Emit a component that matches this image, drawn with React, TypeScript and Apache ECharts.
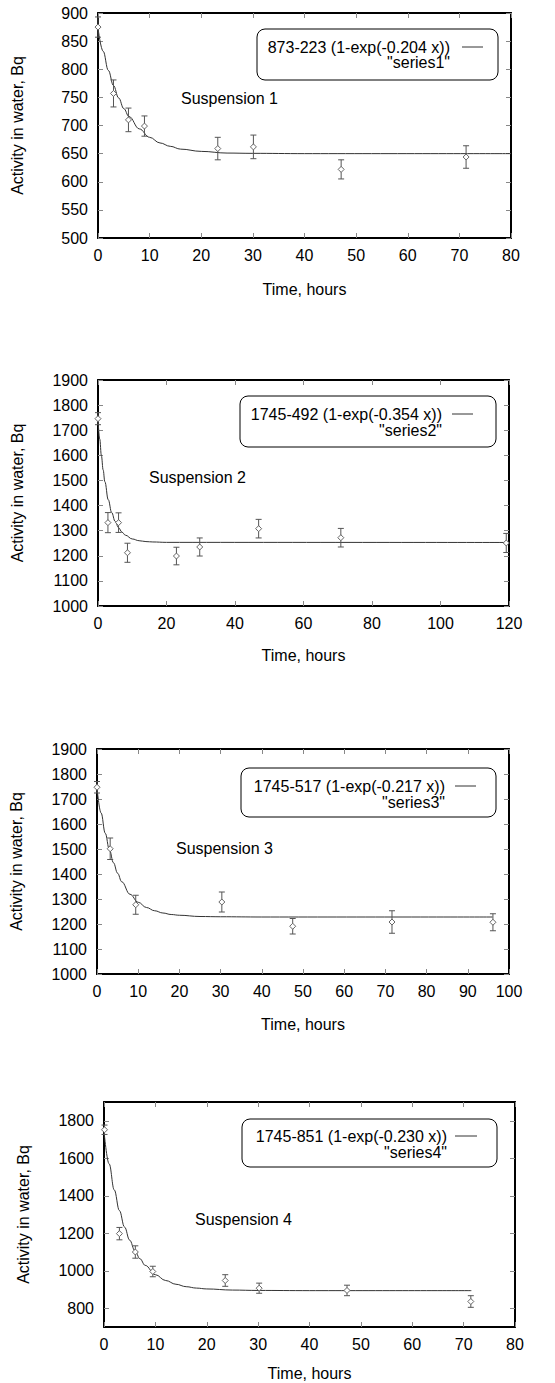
import React, { useEffect, useRef } from "react";
import * as echarts from "echarts";

// ---------- data ----------
const s1Time = [0, 3.0, 5.9, 9.0, 23.2, 30.1, 47.1, 71.3];
const s1Activity = [875, 757, 710, 699, 659, 662, 622, 644];
const s1Error = [18, 24, 21, 18, 20, 21, 17, 20];
const fit1Time = [0, 1, 2, 3, 4, 5, 6, 8, 10, 12, 14, 16, 20, 25, 30, 40, 80];
const fit1Activity = [873, 832, 798, 771, 749, 730, 716, 694, 679, 669, 663, 658, 654, 651, 650.5, 650, 650];

const s2Time = [0, 2.9, 6.0, 8.6, 22.9, 29.7, 46.9, 70.9, 119.2];
const s2Activity = [1746, 1332, 1332, 1212, 1199, 1235, 1308, 1272, 1251];
const s2Error = [24, 40, 39, 38, 35, 36, 37, 37, 38];
const fit2Time = [0, 0.5, 1, 1.5, 2, 3, 4, 5, 6, 7, 8, 10, 12, 14, 16, 20, 120];
const fit2Activity = [1745, 1665, 1598, 1542, 1495, 1423, 1372, 1337, 1312, 1294, 1282, 1267, 1260, 1256.5, 1255, 1253.4, 1253];

const s3Time = [0, 3.2, 9.4, 30.3, 47.5, 71.6, 96.1];
const s3Activity = [1747, 1501, 1277, 1288, 1191, 1208, 1207];
const s3Error = [23, 43, 38, 40, 31, 45, 34];
const fit3Time = [0, 1, 2, 3, 4, 5, 6, 8, 10, 12, 14, 16, 18, 20, 25, 30, 40, 96];
const fit3Activity = [1745, 1644, 1563, 1498, 1445, 1403, 1369, 1319, 1287, 1266, 1253, 1244, 1238, 1235, 1230, 1229, 1228, 1228];

const s4Time = [0.1, 3.0, 6.1, 9.5, 23.6, 30.2, 47.3, 71.4];
const s4Activity = [1752, 1198, 1100, 996, 948, 907, 895, 836];
const s4Error = [25, 33, 33, 28, 31, 27, 28, 31];
const fit4Time = [0, 1, 2, 3, 4, 5, 6, 7, 8, 10, 12, 14, 16, 18, 20, 25, 30, 40, 71.5];
const fit4Activity = [1745, 1570, 1431, 1321, 1233, 1163, 1108, 1064, 1029, 979, 948, 928, 915, 907.5, 903, 897, 895, 894, 894];

const fitLabels = [
  "873-223 (1-exp(-0.204 x))",
  "1745-492 (1-exp(-0.354 x))",
  "1745-517 (1-exp(-0.217 x))",
  "1745-851 (1-exp(-0.230 x))",
];
const seriesLabels = ['"series1"', '"series2"', '"series3"', '"series4"'];
const panelTitles = ["Suspension 1", "Suspension 2", "Suspension 3", "Suspension 4"];

const xMax = [80, 120, 100, 80];
const xStep = [10, 20, 10, 10];
const yMin = [500, 1000, 1000, 700];
const yMax = [900, 1900, 1900, 1900];
const yTicks = [
  [500, 550, 600, 650, 700, 750, 800, 850, 900],
  [1000, 1100, 1200, 1300, 1400, 1500, 1600, 1700, 1800, 1900],
  [1000, 1100, 1200, 1300, 1400, 1500, 1600, 1700, 1800, 1900],
  [800, 1000, 1200, 1400, 1600, 1800],
];

const xTitle = "Time, hours";
const yTitle = "Activity in water, Bq";

// ---------- layout (pixels) ----------
const W = 555;
const H = 1383;
const grids = [
  { left: 98, top: 13, width: 413, height: 225 },
  { left: 98, top: 380, width: 411, height: 226 },
  { left: 96, top: 749, width: 413, height: 225 },
  { left: 104, top: 1102, width: 411, height: 225 },
];
const xNameGap = [43, 41, 42, 38];
const legendBoxes = [
  { x: 257, y: 29, w: 241, h: 51, textRight: 450, sx1: 462, sx2: 483, y1: 47, y2: 62 },
  { x: 240, y: 396, w: 256, h: 51, textRight: 442, sx1: 452, sx2: 473, y1: 414, y2: 430 },
  { x: 241, y: 768, w: 255, h: 49, textRight: 445, sx1: 455, sx2: 476, y1: 786, y2: 802 },
  { x: 242, y: 1119, w: 255, h: 48, textRight: 447, sx1: 455, sx2: 477, y1: 1136, y2: 1152 },
];
const titlePos = [
  { x: 181, y: 98 },
  { x: 149, y: 477 },
  { x: 176, y: 848 },
  { x: 195, y: 1219 },
];

const FONT = "'Liberation Sans', Arial, Helvetica, sans-serif";
const FS = 16;
const BAR = "#555";
const MARK = "#666";

const pointsSets = [
  [s1Time, s1Activity, s1Error],
  [s2Time, s2Activity, s2Error],
  [s3Time, s3Activity, s3Error],
  [s4Time, s4Activity, s4Error],
];
const fitSets = [
  [fit1Time, fit1Activity],
  [fit2Time, fit2Activity],
  [fit3Time, fit3Activity],
  [fit4Time, fit4Activity],
];

const plain = (v: number) => String(v);

function errorBarRender(params: any, api: any) {
  const x = api.value(0);
  const y = api.value(1);
  const e = api.value(2);
  const c = api.coord([x, y]);
  const hi = api.coord([x, y + e]);
  const lo = api.coord([x, y - e]);
  const cap = 3;
  const d = 3;
  const st = { stroke: BAR, lineWidth: 1 };
  return {
    type: "group",
    children: [
      { type: "line", shape: { x1: c[0], y1: hi[1], x2: c[0], y2: lo[1] }, style: st },
      { type: "line", shape: { x1: c[0] - cap, y1: hi[1], x2: c[0] + cap, y2: hi[1] }, style: st },
      { type: "line", shape: { x1: c[0] - cap, y1: lo[1], x2: c[0] + cap, y2: lo[1] }, style: st },
      {
        type: "polygon",
        shape: { points: [[c[0], c[1] - d], [c[0] + d, c[1]], [c[0], c[1] + d], [c[0] - d, c[1]]] },
        style: { fill: "#fff", stroke: MARK, lineWidth: 1 },
      },
    ],
  };
}

function buildOption() {
  const grid: any[] = [];
  const xAxis: any[] = [];
  const yAxis: any[] = [];
  const series: any[] = [];
  const graphic: any[] = [];

  for (let i = 0; i < 4; i++) {
    const g = grids[i];
    grid.push({ left: g.left, top: g.top, width: g.width, height: g.height, containLabel: false });
    const axisLine = { show: true, onZero: false, lineStyle: { color: "#000", width: 2 } };
    const tick = { show: true, inside: true, length: 5, lineStyle: { color: "#888", width: 1 } };
    const custom = i === 3;
    xAxis.push({
      gridIndex: i,
      type: "value",
      position: "bottom",
      min: 0,
      max: xMax[i],
      interval: xStep[i],
      axisLine,
      axisTick: tick,
      splitLine: { show: false },
      axisLabel: { color: "#000", fontSize: FS, fontFamily: FONT, margin: 9, formatter: plain },
      name: xTitle,
      nameLocation: "middle",
      nameGap: xNameGap[i],
      nameTextStyle: { color: "#000", fontSize: FS, fontFamily: FONT },
    });
    xAxis.push({
      gridIndex: i,
      type: "value",
      position: "top",
      min: 0,
      max: xMax[i],
      interval: xStep[i],
      axisLine,
      axisTick: tick,
      splitLine: { show: false },
      axisLabel: { show: false },
    });
    const yBase: any = {
      gridIndex: i,
      type: "value",
      min: yMin[i],
      max: yMax[i],
      axisLine,
      splitLine: { show: false },
    };
    if (custom) {
      yBase.axisTick = { ...tick, customValues: yTicks[i] };
    } else {
      yBase.interval = yTicks[i][1] - yTicks[i][0];
      yBase.axisTick = tick;
    }
    const yLabel: any = { color: "#000", fontSize: FS, fontFamily: FONT, margin: 10, formatter: plain };
    if (custom) yLabel.customValues = yTicks[i];
    yAxis.push({
      ...yBase,
      position: "left",
      axisLabel: yLabel,
      name: yTitle,
      nameLocation: "middle",
      nameRotate: 90,
      nameGap: 73,
      nameTextStyle: { color: "#000", fontSize: FS, fontFamily: FONT },
    });
    yAxis.push({
      ...yBase,
      position: "right",
      axisLabel: { show: false },
    });

    const [ft, fa] = fitSets[i];
    series.push({
      type: "line",
      name: fitLabels[i],
      xAxisIndex: 2 * i,
      yAxisIndex: 2 * i,
      data: ft.map((t, k) => [t, fa[k]]),
      showSymbol: false,
      smooth: 0.4,
      smoothMonotone: "x",
      lineStyle: { color: "#333", width: 1 },
      silent: true,
      z: 2,
    });
    const [pt, pa, pe] = pointsSets[i];
    series.push({
      type: "custom",
      name: seriesLabels[i],
      xAxisIndex: 2 * i,
      yAxisIndex: 2 * i,
      data: pt.map((t, k) => [t, pa[k], pe[k]]),
      encode: { x: 0, y: 1 },
      renderItem: errorBarRender,
      clip: false,
      z: 3,
    });

    // legend box
    const L = legendBoxes[i];
    graphic.push({
      type: "rect",
      shape: { x: L.x, y: L.y, width: L.w, height: L.h, r: 8 },
      style: { fill: "#fff", stroke: "#000", lineWidth: 1 },
      z: 10,
    });
    graphic.push({
      type: "text",
      x: L.textRight,
      y: L.y1,
      style: { text: fitLabels[i], fill: "#000", font: `${FS}px ${FONT}`, textAlign: "right", textVerticalAlign: "middle" },
      z: 11,
    });
    graphic.push({
      type: "text",
      x: L.textRight,
      y: L.y2,
      style: { text: seriesLabels[i], fill: "#000", font: `${FS}px ${FONT}`, textAlign: "right", textVerticalAlign: "middle" },
      z: 11,
    });
    graphic.push({
      type: "line",
      shape: { x1: L.sx1, y1: L.y1, x2: L.sx2, y2: L.y1 },
      style: { stroke: "#333", lineWidth: 1 },
      z: 11,
    });
    const mid = (L.sx1 + L.sx2) / 2;
    graphic.push({
      type: "group",
      z: 11,
      children: [
        { type: "line", shape: { x1: L.sx1, y1: L.y2, x2: L.sx2, y2: L.y2 }, style: { stroke: BAR, lineWidth: 1 } },
        { type: "line", shape: { x1: L.sx1, y1: L.y2 - 3, x2: L.sx1, y2: L.y2 + 3 }, style: { stroke: BAR, lineWidth: 1 } },
        { type: "line", shape: { x1: L.sx2, y1: L.y2 - 3, x2: L.sx2, y2: L.y2 + 3 }, style: { stroke: BAR, lineWidth: 1 } },
        {
          type: "polygon",
          shape: { points: [[mid, L.y2 - 3], [mid + 3, L.y2], [mid, L.y2 + 3], [mid - 3, L.y2]] },
          style: { fill: "#fff", stroke: MARK, lineWidth: 1 },
        },
      ],
    });
    graphic.push({
      type: "text",
      x: titlePos[i].x,
      y: titlePos[i].y,
      style: { text: panelTitles[i], fill: "#000", font: `${FS}px ${FONT}`, textAlign: "left", textVerticalAlign: "middle" },
      z: 11,
    });
  }

  return {
    animation: false,
    backgroundColor: "#fff",
    textStyle: { fontFamily: FONT },
    grid,
    xAxis,
    yAxis,
    series,
    graphic,
  };
}

export default function App() {
  const ref = useRef<HTMLDivElement>(null);
  useEffect(() => {
    if (!ref.current) return;
    const chart = echarts.init(ref.current, undefined, { renderer: "svg" });
    chart.setOption(buildOption() as any);
    return () => chart.dispose();
  }, []);
  return (
    <div
      ref={ref}
      style={{ position: "absolute", left: 0, top: 0, width: W, height: H, background: "#fff" }}
    />
  );
}
